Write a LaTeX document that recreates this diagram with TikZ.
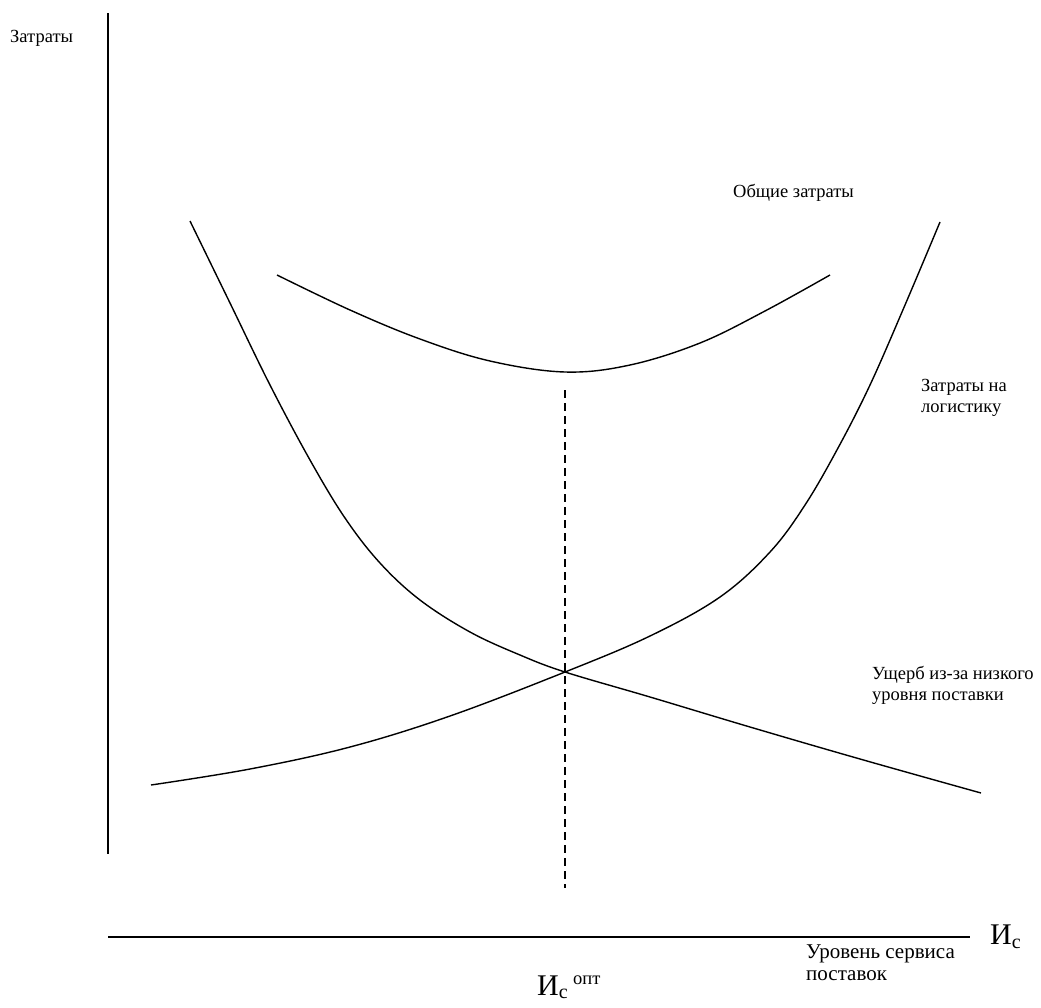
\documentclass[tikz,border=0pt]{standalone}
\usepackage{fontspec}
\setmainfont{Liberation Serif}
\begin{document}
\begin{tikzpicture}[x=1pt,y=-1pt,
  axis/.style={line width=1.6pt},
  curve/.style={line width=1.4pt, line join=round},
  guide/.style={line width=1.2pt, dash pattern=on 8pt off 5pt},
  lbl/.style={font=\fontsize{18.5}{21}\selectfont, inner sep=0pt, align=left}]
\useasboundingbox (0,0) rectangle (1041,1007);
\fill[white] (0,0) rectangle (1041,1007);
% axes
\coordinate (vtop) at (108,13);
\coordinate (vbot) at (108,854);
\coordinate (hl) at (108,937);
\coordinate (hr) at (970,937);
\draw[axis] (vtop) -- (vbot);
\draw[axis] (hl) -- (hr);
% optimum
\coordinate (opttop) at (565,390);
\coordinate (optbot) at (565,888);
\draw[guide] (opttop) -- (optbot);
% total costs
\draw[curve] plot[smooth, tension=0.6] coordinates {(277,275) (350,310) (420,339) (490,361) (565,372) (630,365) (700,343) (765,311) (830,275)};
% logistics costs
\draw[curve] plot[smooth, tension=0.6] coordinates {(151,785) (250,769) (350,747) (450,716) (565,672) (650,636) (720,597) (770,552) (805,505) (838,448) (870,385) (905,305) (940,222)};
% damage
\draw[curve] plot[smooth, tension=0.6] coordinates {(190,221) (230,303) (270,385) (310,460) (345,518) (380,563) (420,600) (470,632) (520,655) (565,672) (650,697) (750,727) (860,759) (981,793)};
% labels
\node[lbl, anchor=base west] (ly) at (10,42) {Затраты};
\node[lbl, anchor=base west] (lt) at (733,197) {Общие затраты};
\node[lbl, anchor=base west] (ll) at (921,412) {Затраты на\\логистику};
\node[lbl, anchor=base west] (ld) at (872,700) {Ущерб из-за низкого\\уровня поставки};
\node[lbl, anchor=base west, font=\fontsize{21}{22}\selectfont] (lx) at (806,980) {Уровень сервиса\\поставок};
\node[anchor=west, inner sep=0pt, font=\fontsize{30}{32}\selectfont] (ic) at (990,937) {И\textsubscript{\fontsize{20}{20}\selectfont с}};
\node[anchor=base west, inner sep=0pt, font=\fontsize{30}{32}\selectfont] (iopt) at (537,995) {И\textsubscript{\fontsize{20}{20}\selectfont с}\,\raisebox{11pt}{\fontsize{18.5}{18.5}\selectfont опт}};
\end{tikzpicture}
\end{document}
